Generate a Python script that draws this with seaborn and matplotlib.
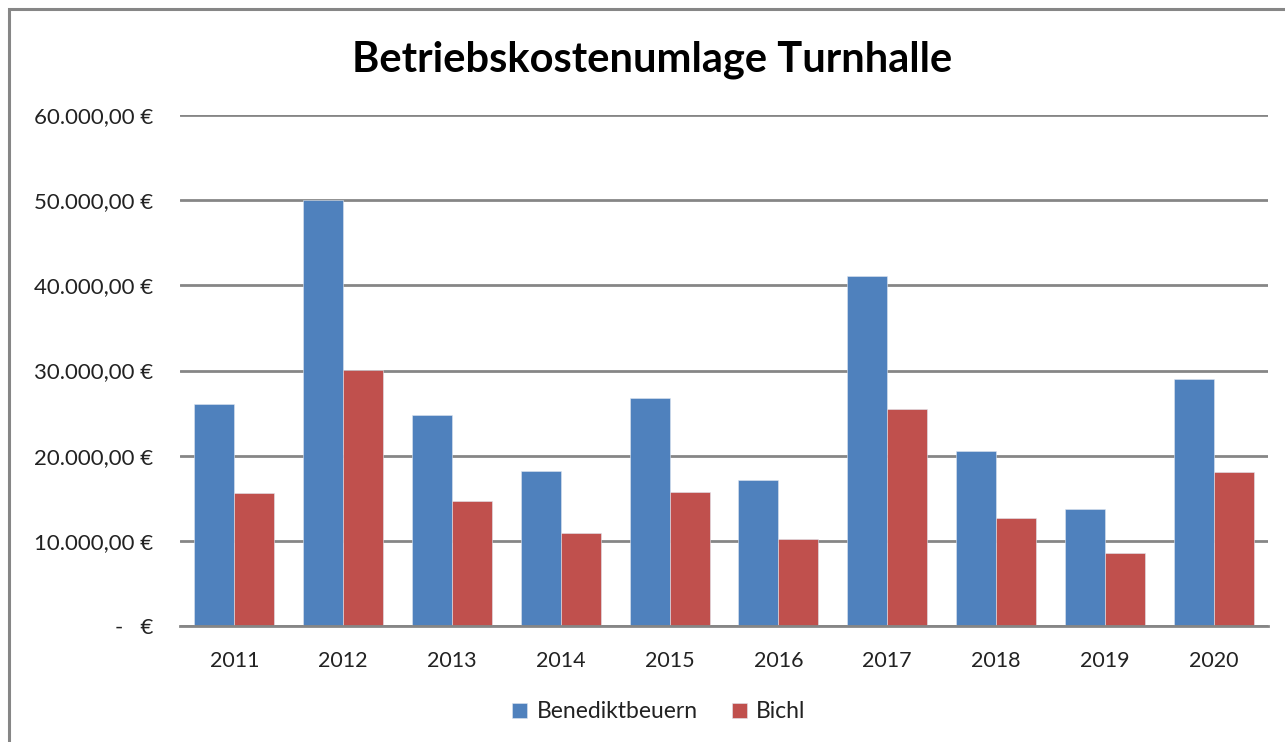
import matplotlib
matplotlib.use("Agg")
import matplotlib.pyplot as plt
import matplotlib.ticker as mticker
from matplotlib.patches import Rectangle
import seaborn as sns
import pandas as pd

years = ["2011", "2012", "2013", "2014", "2015", "2016", "2017", "2018", "2019", "2020"]
benediktbeuern = [26030, 50000, 24770, 18160, 26740, 17140, 41090, 20510, 13770, 29040]
bichl = [15580, 30100, 14640, 10920, 15730, 10210, 25480, 12640, 8530, 18050]
series_names = ["Benediktbeuern", "Bichl"]
title = "Betriebskostenumlage Turnhalle"

df = pd.DataFrame({
    "Jahr": years * 2,
    "Wert": benediktbeuern + bichl,
    "Gemeinde": [series_names[0]] * len(years) + [series_names[1]] * len(years),
})

sns.set_theme(style="white")
plt.rcParams["font.family"] = ["Lato", "DejaVu Sans"]

fig = plt.figure(figsize=(12.85, 7.42), dpi=100)
ax = fig.add_axes([180 / 1285, 1 - 626 / 742, (1268 - 180) / 1285, (626 - 115) / 742])

palette = {series_names[0]: "#4F81BD", series_names[1]: "#C0504D"}
sns.barplot(data=df, x="Jahr", y="Wert", hue="Gemeinde", palette=palette,
            width=0.735, gap=0, ax=ax, saturation=1, legend=True,
            edgecolor="#dfe6f0", linewidth=0.4)

ax.set_ylim(0, 60000)
ax.set_xlim(-0.5, len(years) - 0.5)
ax.set_yticks(range(0, 60001, 10000))

def euro(v, pos):
    if v == 0:
        return "-   €"
    s = f"{v:,.2f}".replace(",", "X").replace(".", ",").replace("X", ".")
    return s + " €"

ax.yaxis.set_major_formatter(mticker.FuncFormatter(euro))
ax.grid(axis="y", color="#868686", linewidth=2.0)
ax.set_axisbelow(True)
for s in ["left", "right", "top"]:
    ax.spines[s].set_visible(False)
ax.spines["bottom"].set_color("#868686")
ax.spines["bottom"].set_linewidth(2.0)
ax.set_xlabel("")
ax.set_ylabel("")
ax.tick_params(axis="y", labelsize=16, colors="#222222", pad=19.5, length=0)
ax.tick_params(axis="x", labelsize=15.5, colors="#222222", pad=18, length=0)

leg = ax.get_legend()
handles, labels = ax.get_legend_handles_labels()
leg.remove()
fig.legend(handles, labels, loc="center", bbox_to_anchor=(659 / 1285, 1 - 712 / 742),
           ncol=2, frameon=False, fontsize=16.5, handlelength=0.65, handleheight=0.65,
           handletextpad=0.4, columnspacing=1.5, labelcolor="#222222")

fig.text(652 / 1285, 1 - 60 / 742, title, ha="center", va="center",
         fontsize=30, fontweight="bold", color="black")

fig.patches.append(Rectangle((8.5 / 1285, -0.1), 2, 1.1 - 9 / 742,
                             transform=fig.transFigure, fill=False,
                             edgecolor="#868686", linewidth=2.2))

fig.savefig("out.png", dpi=100, facecolor="white")
